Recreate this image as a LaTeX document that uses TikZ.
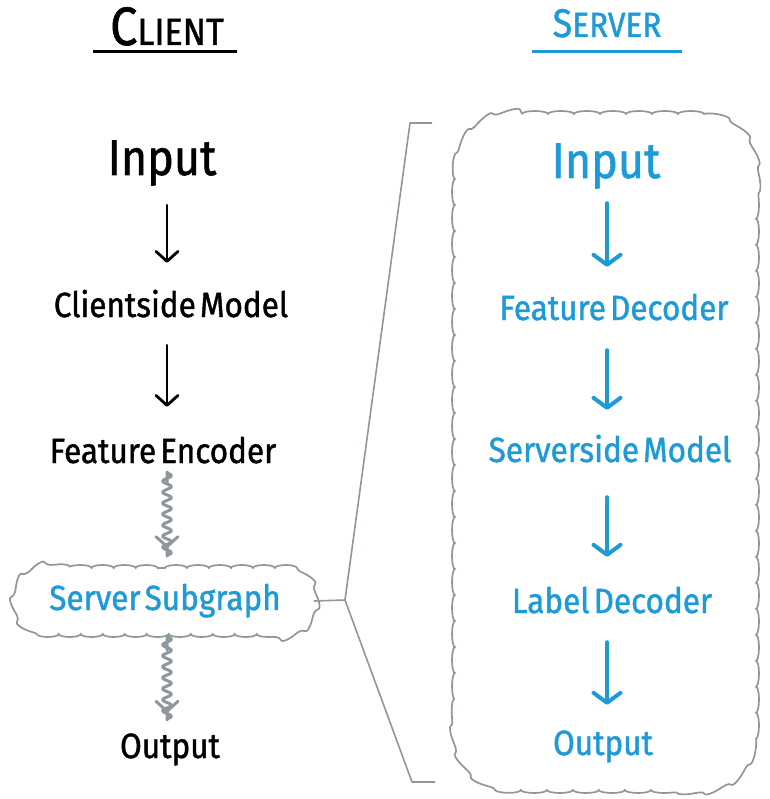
\documentclass[tikz,border=0pt]{standalone}
\usepackage{fontspec}
\setmainfont{Fira Sans}[WordSpace=0.5, FakeStretch=0.9, UprightFeatures={FakeBold=1.2}]
\usetikzlibrary{arrows.meta,decorations.pathmorphing,shapes.misc}
\definecolor{skyblue}{HTML}{1E9BD7}
\definecolor{inkgray}{HTML}{8D979C}
\newcommand{\lblfont}{\fontsize{35}{40}\selectfont}
\newcommand{\bigfont}{\fontsize{50}{54}\selectfont}
\begin{document}
\begin{tikzpicture}[x=1pt,y=-1pt,
  lbl/.style={inner sep=0pt, text height=26pt, text depth=8pt, font=\lblfont, anchor=base},
  srvtext/.style={lbl, text=skyblue},
  darrow/.style={line width=2.8pt, line cap=round, -{Straight Barb[round,length=10pt,width=22pt]}},
  barrow/.style={draw=skyblue, line width=4pt, line cap=round, -{Straight Barb[round,length=10pt,width=27pt]}},
  wavyarrow/.style={draw=inkgray, line width=3pt, line cap=round, line join=round,
    -{Straight Barb[round,length=10pt,width=22pt]},
    decorate, decoration={snake, amplitude=4.5pt, segment length=11pt, pre length=1pt, post length=10pt}},
  cloudline/.style={draw=inkgray, line width=1.7pt, decorate,
    decoration={bumps, segment length=44pt, amplitude=3pt}},
  brk/.style={draw=inkgray, line width=1.6pt, line join=round}]
\useasboundingbox (0,0) rectangle (769,799);

% column axes for the vertical arrows
\coordinate (lx) at (167,0);
\coordinate (rx) at (607,0);

% headings
\node[anchor=base, inner sep=0pt] (ctitle) at (167,45)
  {{\fontsize{54}{54}\selectfont C}{\fontsize{38}{38}\selectfont LIENT}};
\draw[line width=3pt] (93,52) -- (237,52);
\node[anchor=base, inner sep=0pt, text=skyblue] (stitle) at (607,37)
  {{\fontsize{40}{40}\selectfont S}{\fontsize{35}{35}\selectfont ERVER}};
\draw[draw=skyblue, line width=3pt] (532,52) -- (682,52);

% server container, a rounded outline with a cloudy edge
\draw[cloudline, decoration={segment length=52pt}]
  (522,114) -- (690,114) .. controls (732,114) and (756,140) .. (756,184)
  -- (756,722) .. controls (756,764) and (732,790) .. (690,790)
  -- (522,790) .. controls (480,790) and (455,764) .. (455,722)
  -- (455,184) .. controls (455,140) and (480,114) .. (522,114) -- cycle;

% client pipeline
\node[lbl, font=\bigfont] (inL) at (162,175) {Input};
\node[lbl] (cmL) at (171,317) {Clientside Model};
\node[lbl] (feL) at (163,463) {Feature Encoder};
\node[cloudline, rounded rectangle, minimum width=296pt, minimum height=66pt,
  inner sep=0pt, text height=26pt, text depth=8pt, font=\lblfont, text=skyblue]
  (sub) at (165,601) {Server Subgraph};
\node[lbl] (outL) at (170,758) {Output};

\draw[darrow, shorten <=22pt, shorten >=28pt] (inL.south -| lx) -- (cmL.north -| lx);
\draw[darrow, shorten <=20pt, shorten >=30pt] (cmL.south -| lx) -- (feL.north -| lx);
\draw[wavyarrow, shorten <=12pt, shorten >=19pt] (feL.south -| lx) -- (sub.north -| lx);
\draw[wavyarrow, shorten <=15pt, shorten >=19pt] (sub.south -| lx) -- (outL.north -| lx);

% server pipeline
\node[srvtext, font=\bigfont] (inR) at (606,178) {Input};
\node[srvtext] (fdR) at (614,320) {Feature Decoder};
\node[srvtext] (smR) at (610,462) {Serverside Model};
\node[srvtext] (ldR) at (612,613) {Label Decoder};
\node[srvtext] (outR) at (603,755) {Output};

\draw[barrow, shorten <=17pt, shorten >=27pt] (inR.south -| rx) -- (fdR.north -| rx);
\draw[barrow, shorten <=22pt, shorten >=26pt] (fdR.south -| rx) -- (smR.north -| rx);
\draw[barrow, shorten <=27pt, shorten >=30pt] (smR.south -| rx) -- (ldR.north -| rx);
\draw[barrow, shorten <=21pt, shorten >=24pt] (ldR.south -| rx) -- (outR.north -| rx);

% bracket expanding the subgraph into the server view
\coordinate (fork) at (345,600);
\coordinate (brtop) at (410,123);
\coordinate (brbot) at (412,782);
\draw[brk] (sub.east) -- (fork);
\draw[brk] ([xshift=22pt]brtop) -- (brtop) -- (fork) -- (brbot) -- ([xshift=23pt]brbot);
\end{tikzpicture}
\end{document}
